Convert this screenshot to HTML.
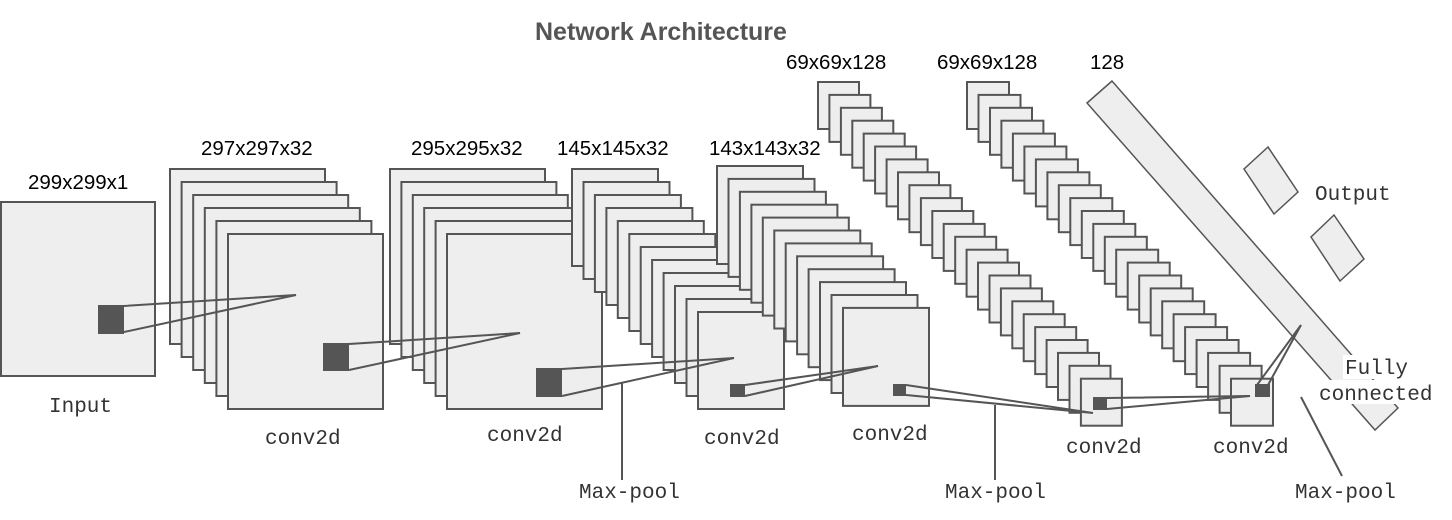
<!DOCTYPE html>
<html><head><meta charset="utf-8"><style>
html,body{margin:0;padding:0;background:#fff;}
svg{display:block;}
.s{font-family:"Liberation Sans",sans-serif;font-size:20.5px;fill:#000;}
.m{font-family:"Liberation Mono",monospace;font-size:21px;fill:#333;}
</style></head><body>
<svg id="g" width="1452" height="520" viewBox="0 0 1452 520" xmlns="http://www.w3.org/2000/svg">
<text x="535" y="40" style="font-family:'Liberation Sans',sans-serif;font-weight:bold;font-size:25px;fill:#555">Network Architecture</text>
<text class="s" x="28" y="189">299x299x1</text>
<text class="s" x="201" y="155">297x297x32</text>
<text class="s" x="411" y="155">295x295x32</text>
<text class="s" x="557" y="155">145x145x32</text>
<text class="s" x="709" y="155">143x143x32</text>
<text class="s" x="786" y="69">69x69x128</text>
<text class="s" x="937" y="69">69x69x128</text>
<text class="s" x="1090" y="69">128</text>
<g id="stacks" fill="#eeeeee" stroke="#555" stroke-width="2"></g>
<g fill="#eeeeee" stroke="#555" stroke-width="1.5">
<polygon points="1112,81 1087,103 1375,430 1398,408"/>
<polygon points="1268,147 1244,169 1274,214 1298,192"/>
<polygon points="1334,215 1311,237 1340,281 1364,259"/>
</g>
<g fill="#555">
<rect x="98" y="305" width="26" height="29"/>
<rect x="323" y="343" width="26" height="28"/>
<rect x="536" y="368" width="26" height="29"/>
<rect x="730" y="384" width="15" height="13"/>
<rect x="893" y="384" width="13" height="12"/>
<rect x="1093" y="397" width="14" height="13"/>
<rect x="1255" y="384" width="15" height="13"/>
</g>
<g stroke="#555" stroke-width="2" fill="none">
<polyline points="124,306 296,295 124,332"/>
<polyline points="349,344 520,333 349,370"/>
<polyline points="562,369 734,358 562,396"/>
<polyline points="745,385 878,366 745,396"/>
<polyline points="906,385 1093,413 906,395"/>
<polyline points="1107,398 1250,396 1107,409"/>
<polyline points="1257,385 1301,325 1268,385"/>
<line x1="622" y1="382" x2="622" y2="480"/>
<line x1="995" y1="405" x2="995" y2="480"/>
<line x1="1301" y1="397" x2="1342" y2="476"/>
</g>
<rect x="1343" y="355" width="68" height="24" fill="#fff"/>
<rect x="1318" y="380" width="118" height="24" fill="#fff"/>
<text class="m" x="1315" y="200">Output</text>
<text class="m" x="1345" y="374">Fully</text>
<text class="m" x="1319" y="400">connected</text>
<text class="m" x="49" y="412">Input</text>
<text class="m" x="265" y="444">conv2d</text>
<text class="m" x="487" y="441">conv2d</text>
<text class="m" x="704" y="444">conv2d</text>
<text class="m" x="852" y="440">conv2d</text>
<text class="m" x="1066" y="453">conv2d</text>
<text class="m" x="1213" y="453">conv2d</text>
<text class="m" x="579" y="498">Max-pool</text>
<text class="m" x="945" y="498">Max-pool</text>
<text class="m" x="1295" y="498">Max-pool</text>
</svg>
<script>
(function(){
var g=document.getElementById('stacks');var ns='http://www.w3.org/2000/svg';
function r(x,y,w,h){var e=document.createElementNS(ns,'rect');e.setAttribute('x',x);e.setAttribute('y',y);e.setAttribute('width',w);e.setAttribute('height',h);g.appendChild(e);}
r(1,202,154,174);
function st(x0,y0,n,dx,dy,w,h){for(var i=0;i<n;i++)r((x0+i*dx).toFixed(1),(y0+i*dy).toFixed(1),w,h);}
st(170,169,6,11.6,13,155,175);
st(390,169,6,11.4,13,155,175);
st(572,169,12,11.45,13,86,97);
st(717,166,12,11.45,12.9,86,98);
st(818,82,24,11.43,12.9,41,47);
st(967,82,24,11.48,12.9,42,47);
})();
</script>
</body></html>
